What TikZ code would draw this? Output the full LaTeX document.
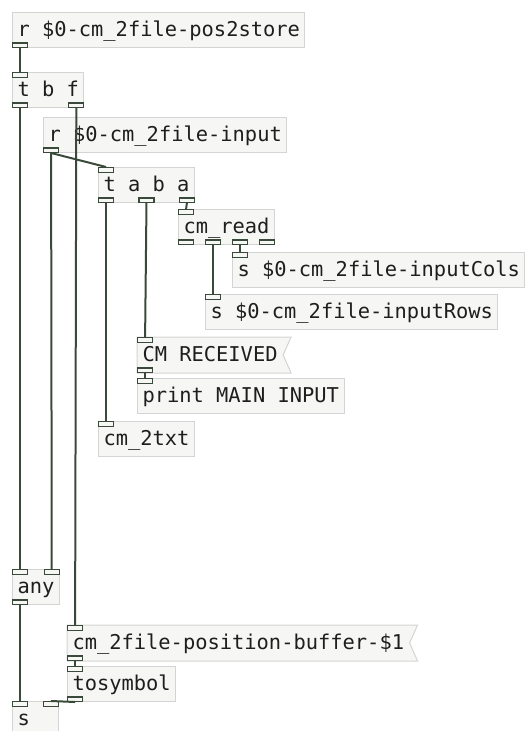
\documentclass[tikz,border=0pt]{standalone}
\usepackage{fontspec}
\setmonofont{DejaVu Sans Mono}
\usetikzlibrary{calc, positioning, backgrounds}
\usepackage{xcolor}
\definecolor{boxfill}{HTML}{F6F6F4}
\definecolor{boxline}{HTML}{D4D4D4}
\definecolor{cord}{HTML}{3A4A3A}
\definecolor{inktext}{HTML}{1E1E1E}
\tikzstyle{object} = [
rectangle,
draw=boxline,
fill=boxfill,
line width=1pt,
anchor=north west,
minimum height=35pt,
inner xsep=5pt,
inner ysep=0pt,
text height=15pt,
text depth=3pt,
text=inktext,
font=\ttfamily\fontsize{20.4}{22}\selectfont
]
\tikzstyle{message} = [object, draw=none, fill=none]
\tikzstyle{flag} = [draw=boxline, fill=boxfill, line width=1pt]
\tikzstyle{port} = [
rectangle,
draw=cord,
fill=boxfill,
line width=1.2pt,
minimum width=15pt,
minimum height=4.5pt,
inner sep=0pt
]
\tikzstyle{inlet} = [port, anchor=north west]
\tikzstyle{outlet} = [port, anchor=south west]
\tikzstyle{wire} = [draw=cord, line width=2pt]

\begin{document}
\begin{tikzpicture}[x=1pt, y=-1pt]
        \useasboundingbox (0,0) rectangle (527,731);

        % objects
        \node(pos)[object] at (12,12) {r \$0-cm\_2file-pos2store};
        \node(tbf)[object] at (12,72) {t b f};
        \node(rin)[object] at (43,117) {r \$0-cm\_2file-input};
        \node(taba)[object] at (98,167) {t a b a};
        \node(cmread)[object] at (178,209) {cm\_read};
        \node(cols)[object] at (232,252) {s \$0-cm\_2file-inputCols};
        \node(rows)[object] at (205,294) {s \$0-cm\_2file-inputRows};
        \node(cmrec)[message] at (137,337) {CM RECEIVED};
        \node(prt)[object] at (137,378) {print MAIN INPUT};
        \node(txt)[object] at (98,421) {cm\_2txt};
        \node(any)[object, minimum width=46pt] at (12,569) {any};
        \node(buf)[message] at (67,625) {cm\_2file-position-buffer-\$1};
        \node(tosym)[object] at (67,666) {tosymbol};
        \node(snd)[object, minimum width=46pt, align=left, text width=36pt] at (12,701) {s};

        % message boxes
        \begin{scope}[on background layer]
        \draw[flag] (cmrec.north west) -- ($(cmrec.north east)+(8,0)$) -- (cmrec.east)
                -- ($(cmrec.south east)+(8,0)$) -- (cmrec.south west) -- cycle;
        \draw[flag] (buf.north west) -- ($(buf.north east)+(8,0)$) -- (buf.east)
                -- ($(buf.south east)+(8,0)$) -- (buf.south west) -- cycle;
        \end{scope}

        % inlets and outlets
        \node(pos-o0)[outlet] at (pos.south west) {};
        \node(tbf-i0)[inlet] at (tbf.north west) {};
        \node(tbf-o0)[outlet] at (tbf.south west) {};
        \node(tbf-o1)[outlet, anchor=south east] at (tbf.south east) {};
        \node(rin-o0)[outlet] at (rin.south west) {};
        \node(taba-i0)[inlet] at (taba.north west) {};
        \node(taba-o0)[outlet] at (taba.south west) {};
        \node(taba-o1)[outlet, anchor=south] at (taba.south) {};
        \node(taba-o2)[outlet, anchor=south east] at (taba.south east) {};
        \node(cmread-i0)[inlet] at (cmread.north west) {};
        \node(cmread-o0)[outlet] at (cmread.south west) {};
        \node(cmread-o1)[outlet] at ($(cmread.south west)+(27,0)$) {};
        \node(cmread-o2)[outlet] at ($(cmread.south west)+(54,0)$) {};
        \node(cmread-o3)[outlet, anchor=south east] at (cmread.south east) {};
        \node(cols-i0)[inlet] at (cols.north west) {};
        \node(rows-i0)[inlet] at (rows.north west) {};
        \node(cmrec-i0)[inlet] at (cmrec.north west) {};
        \node(cmrec-o0)[outlet] at (cmrec.south west) {};
        \node(prt-i0)[inlet] at (prt.north west) {};
        \node(txt-i0)[inlet] at (txt.north west) {};
        \node(any-i0)[inlet] at (any.north west) {};
        \node(any-i1)[inlet, anchor=north east] at (any.north east) {};
        \node(any-o0)[outlet] at (any.south west) {};
        \node(buf-i0)[inlet] at (buf.north west) {};
        \node(buf-o0)[outlet] at (buf.south west) {};
        \node(tosym-i0)[inlet] at (tosym.north west) {};
        \node(tosym-o0)[outlet] at (tosym.south west) {};
        \node(snd-i0)[inlet] at (snd.north west) {};
        \node(snd-i1)[inlet, anchor=north east] at (snd.north east) {};

        % connections
        \draw[wire] (pos-o0.south) -- (tbf-i0.north);
        \draw[wire] (tbf-o0.south) -- (any-i0.north);
        \draw[wire] (tbf-o1.south) -- (buf-i0.north);
        \draw[wire] (rin-o0.south) -- (any-i1.north);
        \draw[wire] (rin-o0.south) -- (taba-i0.north);
        \draw[wire] (taba-o0.south) -- (txt-i0.north);
        \draw[wire] (taba-o1.south) -- (cmrec-i0.north);
        \draw[wire] (taba-o2.south) -- (cmread-i0.north);
        \draw[wire] (cmread-o1.south) -- (rows-i0.north);
        \draw[wire] (cmread-o2.south) -- (cols-i0.north);
        \draw[wire] (cmrec-o0.south) -- (prt-i0.north);
        \draw[wire] (any-o0.south) -- (snd-i0.north);
        \draw[wire] (buf-o0.south) -- (tosym-i0.north);
        \draw[wire] (tosym-o0.south) -- (snd-i1.north);

\end{tikzpicture}
\end{document}
